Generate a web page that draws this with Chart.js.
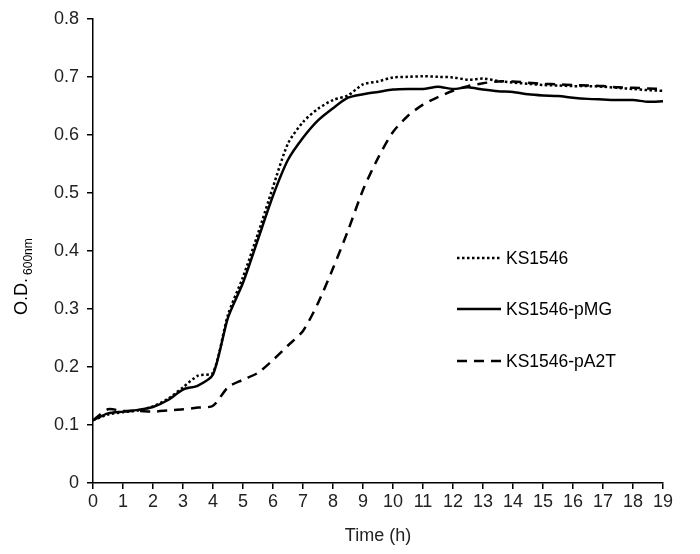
<!DOCTYPE html>
<html>
<head>
<meta charset="utf-8">
<script src="https://cdn.jsdelivr.net/npm/chart.js@4/dist/chart.umd.min.js"></script>
<style>
  html, body { margin: 0; padding: 0; background: #fff; }
  #wrap { width: 700px; height: 554px; }
</style>
</head>
<body>
<div id="wrap"><canvas id="growth"></canvas></div>
<script>
// --- datos (cada 0.5 h) ---
const hours = [0,0.5,1,1.5,2,2.5,3,3.5,4,4.5,5,5.5,6,6.5,7,7.5,8,8.5,9,9.5,10,10.5,11,11.5,12,12.5,13,13.5,14,14.5,15,15.5,16,16.5,17,17.5,18,18.5,19];

const ks1546 = [0.108,0.118,0.122,0.125,0.132,0.145,0.165,0.185,0.19,0.29,0.355,0.43,0.51,0.585,0.622,0.645,0.66,0.668,0.687,0.692,0.699,0.70,0.701,0.70,0.699,0.695,0.697,0.693,0.69,0.688,0.686,0.685,0.684,0.684,0.683,0.681,0.679,0.677,0.676];

const ksPMG = [0.108,0.12,0.123,0.126,0.131,0.143,0.161,0.168,0.187,0.285,0.345,0.42,0.495,0.557,0.595,0.625,0.646,0.664,0.67,0.674,0.678,0.679,0.679,0.683,0.679,0.682,0.678,0.675,0.674,0.67,0.668,0.667,0.664,0.662,0.661,0.66,0.66,0.657,0.658];

const ksPA2T = [0.108,0.127,0.124,0.124,0.123,0.125,0.127,0.13,0.133,0.165,0.178,0.19,0.212,0.237,0.262,0.31,0.37,0.435,0.505,0.56,0.605,0.633,0.652,0.665,0.676,0.684,0.689,0.692,0.692,0.69,0.688,0.687,0.686,0.685,0.684,0.682,0.681,0.68,0.679];

const seriesNames = ['KS1546', 'KS1546-pMG', 'KS1546-pA2T'];
const xTitle = 'Time (h)';
const yTitleMain = 'O.D.';
const yTitleSub = '600nm';

const FONT = 'Liberation Sans, Arial, sans-serif';

function pts(ys) { return hours.map((h, i) => ({ x: h, y: ys[i] })); }

// --- título del eje Y con subíndice ---
const yTitlePlugin = {
  id: 'yTitle',
  afterDraw(chart) {
    const ctx = chart.ctx;
    const cy = (chart.chartArea.top + chart.chartArea.bottom) / 2;
    ctx.save();
    ctx.fillStyle = '#000';
    ctx.translate(27, cy + 64);
    ctx.rotate(-Math.PI / 2);
    ctx.textBaseline = 'alphabetic';
    ctx.textAlign = 'left';
    ctx.font = '18px ' + FONT;
    ctx.fillText(yTitleMain, 0, 0);
    const w = ctx.measureText(yTitleMain).width;
    ctx.font = '12px ' + FONT;
    ctx.fillText(yTitleSub, w + 3, 5);
    ctx.restore();
  }
};

// --- leyenda dentro del área ---
const legendPlugin = {
  id: 'inLegend',
  afterDraw(chart) {
    const ctx = chart.ctx;
    const rows = [258, 309, 361];
    ctx.save();
    chart.data.datasets.forEach((ds, i) => {
      const y = rows[i];
      ctx.strokeStyle = '#000';
      ctx.lineWidth = ds.borderWidth;
      ctx.setLineDash(ds.borderDash || []);
      ctx.beginPath();
      ctx.moveTo(457, y);
      ctx.lineTo(501, y);
      ctx.stroke();
      ctx.setLineDash([]);
      ctx.fillStyle = '#000';
      ctx.font = '17.5px ' + FONT;
      ctx.textBaseline = 'middle';
      ctx.fillText(ds.label, 506, y + 1);
    });
    ctx.restore();
  }
};

new Chart(document.getElementById('growth'), {
  type: 'line',
  data: {
    datasets: [
      { label: seriesNames[0], data: pts(ks1546), borderColor: '#000', borderWidth: 2.5, borderDash: [2.5, 2.5], pointRadius: 0, tension: 0.25 },
      { label: seriesNames[1], data: pts(ksPMG), borderColor: '#000', borderWidth: 2.5, pointRadius: 0, tension: 0.25 },
      { label: seriesNames[2], data: pts(ksPA2T), borderColor: '#000', borderWidth: 2.5, borderDash: [10, 7], pointRadius: 0, tension: 0.25 }
    ]
  },
  options: {
    responsive: true,
    maintainAspectRatio: false,
    animation: false,
    layout: { padding: { left: 0, right: 37, top: 16, bottom: 0 } },
    plugins: { legend: { display: false }, tooltip: { enabled: false } },
    scales: {
      x: {
        type: 'linear', min: 0, max: 19,
        afterFit: s => { s.height = 71; },
        ticks: { stepSize: 1, color: '#222', font: { family: FONT, size: 18 }, padding: 2, maxRotation: 0 },
        grid: { drawOnChartArea: false, drawTicks: true, tickLength: 6, color: '#000', lineWidth: 1.5 },
        border: { color: '#000', width: 1.5 },
        title: { display: true, text: xTitle, color: '#222', font: { family: FONT, size: 18 }, padding: { top: 0, bottom: 7 } }
      },
      y: {
        min: 0, max: 0.8,
        afterFit: s => { s.width = 93; },
        ticks: { stepSize: 0.1, color: '#222', font: { family: FONT, size: 18 }, padding: 8,
          callback: v => v === 0 ? '0' : v.toFixed(1) },
        grid: { drawOnChartArea: false, drawTicks: true, tickLength: 6, color: '#000', lineWidth: 1.5 },
        border: { color: '#000', width: 1.5 }
      }
    }
  },
  plugins: [yTitlePlugin, legendPlugin]
});
</script>
</body>
</html>
